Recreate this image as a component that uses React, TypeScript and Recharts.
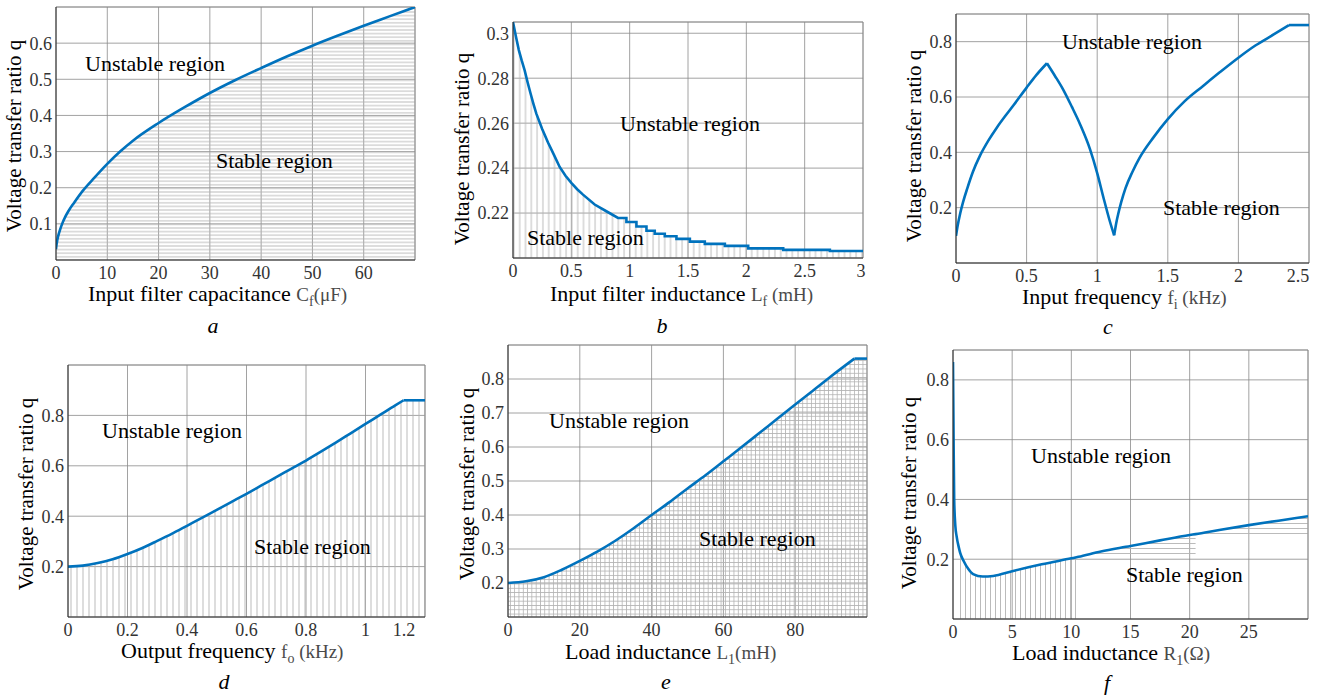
import React from 'react';
import { ComposedChart, Line, Area, XAxis, YAxis, CartesianGrid, ReferenceLine } from 'recharts';

const FONT = 'Liberation Serif, DejaVu Serif, Noto Serif, serif';
const BLUE = '#0072bd';
const GRID = '#8a8a8a';
const HATCH = '#b3b3b3';
const AXIS = '#262626';

// (a) input filter capacitance Cf (uF)
const capC = [0, 0.1, 0.25, 0.5, 0.75, 1.25, 1.75, 2.5, 3.5, 5.25, 7.5, 10, 12.5, 15, 20, 25, 30, 35, 40, 45, 50, 55, 60, 65, 70];
const capQ = [0.03, 0.042, 0.055, 0.07, 0.082, 0.102, 0.118, 0.137, 0.158, 0.192, 0.228, 0.266, 0.3, 0.33, 0.379, 0.422, 0.462, 0.498, 0.531, 0.563, 0.593, 0.621, 0.648, 0.674, 0.7];
const capXTicks = [0, 10, 20, 30, 40, 50, 60];
const capYTicks = [0.1, 0.2, 0.3, 0.4, 0.5, 0.6];

// (b) input filter inductance Lf (mH) - stair-stepped tail
const indL = [0, 0.025, 0.05, 0.075, 0.1, 0.125, 0.15, 0.175, 0.2, 0.25, 0.3, 0.35, 0.4, 0.45, 0.5, 0.55, 0.6, 0.7, 0.8, 0.9,
  0.972, 0.972, 1.058, 1.058, 1.144, 1.144, 1.215, 1.215, 1.301, 1.301, 1.401, 1.401, 1.516, 1.516,
  1.644, 1.644, 1.816, 1.816, 2.016, 2.016, 2.316, 2.316, 2.716, 2.716, 3.0];
const indQ = [0.305, 0.2985, 0.2925, 0.2878, 0.2835, 0.2782, 0.2733, 0.2686, 0.2642, 0.2574, 0.2514, 0.246, 0.2405, 0.2366, 0.2334, 0.2306, 0.2282, 0.2238, 0.2208, 0.2178,
  0.2178, 0.216, 0.216, 0.214, 0.214, 0.2121, 0.2121, 0.2108, 0.2108, 0.2097, 0.2097, 0.2085, 0.2085, 0.2073,
  0.2073, 0.2063, 0.2063, 0.2054, 0.2054, 0.2043, 0.2043, 0.2036, 0.2036, 0.2031, 0.2031];
const indXTicks = [0, 0.5, 1, 1.5, 2, 2.5, 3];
const indYTicks = [0.22, 0.24, 0.26, 0.28, 0.3];

// (c) input frequency fi (kHz): rise, fall, rise again (sharp cusps between)
const finF = [0, 0.01, 0.03, 0.05, 0.08, 0.12, 0.17, 0.23, 0.29, 0.35, 0.41, 0.5, 0.57, 0.644,
  0.7, 0.76, 0.82, 0.88, 0.95, 1.0, 1.045, 1.09, 1.12,
  1.135, 1.15, 1.17, 1.2, 1.25, 1.3, 1.4, 1.5, 1.62, 1.75, 1.87, 2.0, 2.12, 2.25, 2.358, 2.5];
const finQ = [0.098, 0.13, 0.18, 0.22, 0.27, 0.33, 0.388, 0.443, 0.49, 0.532, 0.572, 0.634, 0.68, 0.722,
  0.677, 0.626, 0.565, 0.5, 0.41, 0.325, 0.235, 0.15, 0.1,
  0.145, 0.18, 0.22, 0.27, 0.33, 0.38, 0.455, 0.52, 0.585, 0.64, 0.69, 0.742, 0.786, 0.826, 0.86, 0.86];
const finPeak = 0.644;
const finDip = 1.12;
const finSat = 2.358;
const finXTicks = [0, 0.5, 1, 1.5, 2, 2.5];
const finYTicks = [0.2, 0.4, 0.6, 0.8];

// (d) output frequency fo (kHz)
const foutF = [0, 0.05, 0.1, 0.15, 0.2, 0.25, 0.3, 0.35, 0.4, 0.45, 0.5, 0.55, 0.6, 0.65, 0.7, 0.75, 0.8, 0.85, 0.9, 0.95, 1.0, 1.05, 1.1, 1.128, 1.2];
const foutQ = [0.2, 0.204, 0.214, 0.229, 0.25, 0.274, 0.302, 0.331, 0.362, 0.393, 0.425, 0.457, 0.489, 0.522, 0.555, 0.588, 0.621, 0.656, 0.692, 0.729, 0.766, 0.803, 0.84, 0.86, 0.86];
const foutSat = 1.128;
const foutXTicks = [0, 0.2, 0.4, 0.6, 0.8, 1, 1.2];
const foutYTicks = [0.2, 0.4, 0.6, 0.8];

// (e) load inductance L1 (mH)
const loadL = [0, 5, 10, 15, 20, 25, 30, 35, 40, 45, 50, 55, 60, 65, 70, 75, 80, 85, 90, 96.5, 100];
const loadLQ = [0.2, 0.205, 0.217, 0.239, 0.265, 0.293, 0.325, 0.361, 0.4, 0.438, 0.478, 0.517, 0.558, 0.599, 0.641, 0.683, 0.725, 0.766, 0.808, 0.86, 0.86];
const loadLSat = 96.5;
const loadLXTicks = [0, 20, 40, 60, 80];
const loadLYTicks = [0.2, 0.3, 0.4, 0.5, 0.6, 0.7, 0.8];

// (f) load resistance R1 (ohm)
const loadR = [0, 0.05, 0.1, 0.2, 0.3, 0.5, 0.6, 0.9, 1.3, 1.7, 2.5, 3.4, 5, 7.5, 10, 10.6, 12.5, 15, 17.5, 20, 20.5, 22.5, 25, 27.5, 30];
const loadRQ = [0.86, 0.6, 0.4, 0.31, 0.278, 0.238, 0.222, 0.194, 0.167, 0.15, 0.142, 0.144, 0.16, 0.183, 0.203, 0.208, 0.226, 0.244, 0.263, 0.281, 0.284, 0.298, 0.314, 0.329, 0.344];
const loadRXTicks = [0, 5, 10, 15, 20, 25];
const loadRYTicks = [0.2, 0.4, 0.6, 0.8];
// hatch bands of panel f: [from, to, lower q]
const fVertBand = [0.5, 10.6];
const fBand1 = [10.6, 20.5, 0.205];
const fBand2 = [20.5, 30, 0.278];

const zip = (xs: number[], qs: number[]) => xs.map((x, i) => ({ x, q: qs[i] }));
const inRange = (x: number, a: number, b: number, v: any) => (x >= a && x <= b ? v : null);

const aData = zip(capC, capQ);
const bData = zip(indL, indQ);
const cData = finF.map((x, i) => ({
  x,
  up1: inRange(x, 0, finPeak, finQ[i]),
  down: inRange(x, finPeak, finDip, finQ[i]),
  up2: inRange(x, finDip, finSat, finQ[i]),
  flat: inRange(x, finSat, Infinity, finQ[i]),
}));
const dData = foutF.map((x, i) => ({
  x,
  q: foutQ[i],
  ramp: inRange(x, 0, foutSat, foutQ[i]),
  flat: inRange(x, foutSat, Infinity, foutQ[i]),
}));
const eData = loadL.map((x, i) => ({
  x,
  q: loadLQ[i],
  ramp: inRange(x, 0, loadLSat, loadLQ[i]),
  flat: inRange(x, loadLSat, Infinity, loadLQ[i]),
}));
const fData = loadR.map((x, i) => {
  const q = loadRQ[i];
  return {
    x,
    q,
    v: inRange(x, fVertBand[0], fVertBand[1], q),
    h1: inRange(x, fBand1[0], fBand1[1], [fBand1[2], q]),
    h2: inRange(x, fBand2[0], fBand2[1], [fBand2[2], q]),
  };
});

function XTick(props: any) {
  const { x, y, payload, lastValue, lastDx } = props;
  const shift = payload.value === lastValue ? lastDx : 0;
  return (
    <text x={x + shift} y={y} dy="0.71em" textAnchor="middle" fontFamily={FONT} fontSize={18} fill="#333">
      {payload.value}
    </text>
  );
}

function YTick(props: any) {
  const { x, y, payload } = props;
  return (
    <text x={x} y={y} dy="0.355em" textAnchor="end" fontFamily={FONT} fontSize={18} fill="#333">
      {payload.value}
    </text>
  );
}

const YW = 60;
const XH = 30;
const PAD = 4;

function Panel({ box, data, xDomain, yDomain, xTicks, yTicks, lastDx = 0, children }: any) {
  const [l, t, r, b] = box;
  return (
    <div style={{ position: 'absolute', left: l - YW, top: t - PAD }}>
      <ComposedChart
        width={YW + r - l + PAD}
        height={PAD + b - t + XH}
        data={data}
        margin={{ top: PAD, right: PAD, bottom: 0, left: 0 }}
      >
        <CartesianGrid stroke={GRID} strokeWidth={0.8} />
        <XAxis
          dataKey="x"
          type="number"
          domain={xDomain}
          ticks={xTicks}
          allowDataOverflow
          interval={0}
          height={XH}
          tickSize={0}
          tickMargin={6}
          tickLine={false}
          stroke={AXIS}
          tick={<XTick lastValue={xTicks[xTicks.length - 1]} lastDx={lastDx} />}
        />
        <YAxis
          type="number"
          domain={yDomain}
          ticks={yTicks}
          allowDataOverflow
          interval={0}
          width={YW}
          tickSize={0}
          tickMargin={4}
          tickLine={false}
          stroke={AXIS}
          tick={<YTick />}
        />
        <ReferenceLine x={xDomain[1]} stroke={GRID} strokeWidth={0.8} />
        <ReferenceLine y={yDomain[1]} stroke={GRID} strokeWidth={0.8} />
        {children}
      </ComposedChart>
    </div>
  );
}

function Note({ x, y, children, size = 22, center = false, rotate = false, italic = false }: any) {
  const tx = center || rotate ? '-50%' : '0';
  return (
    <div
      style={{
        position: 'absolute',
        left: x,
        top: y,
        transform: `translate(${tx}, -50%)${rotate ? ' rotate(-90deg)' : ''}`,
        fontFamily: FONT,
        fontSize: size,
        lineHeight: 1,
        whiteSpace: 'nowrap',
        fontStyle: italic ? 'italic' : 'normal',
        color: '#000',
      }}
    >
      {children}
    </div>
  );
}

function Unit({ sym, sub, rest }: any) {
  return (
    <span style={{ color: '#4a4a4a', fontSize: 19 }}>
      {sym}
      <span style={{ fontSize: 14, position: 'relative', top: '0.35em' }}>{sub}</span>
      {rest}
    </span>
  );
}

const line = (key: string, type: any = 'linear') => (
  <Line dataKey={key} type={type} stroke={BLUE} strokeWidth={2.6} dot={false} activeDot={false} isAnimationActive={false} />
);

const YLABEL = 'Voltage transfer ratio q';

export default function App() {
  return (
    <div style={{ position: 'absolute', left: 0, top: 0, width: 1322, height: 698, background: '#fff', overflow: 'hidden' }}>
      <svg width={0} height={0} style={{ position: 'absolute' }}>
        <defs>
          <pattern id="hatchA" patternUnits="userSpaceOnUse" width={10} height={3.6}>
            <line x1={0} y1={1.8} x2={10} y2={1.8} stroke={HATCH} strokeWidth={0.9} />
          </pattern>
          <pattern id="hatchB" patternUnits="userSpaceOnUse" width={5.8} height={10}>
            <line x1={2.9} y1={0} x2={2.9} y2={10} stroke={HATCH} strokeWidth={0.9} />
          </pattern>
          <pattern id="hatchD" patternUnits="userSpaceOnUse" width={6} height={10}>
            <line x1={3} y1={0} x2={3} y2={10} stroke={HATCH} strokeWidth={0.9} />
          </pattern>
          <pattern id="hatchE" patternUnits="userSpaceOnUse" width={4.3} height={4.3}>
            <line x1={2.15} y1={0} x2={2.15} y2={4.3} stroke={HATCH} strokeWidth={0.8} />
            <line x1={0} y1={2.15} x2={4.3} y2={2.15} stroke={HATCH} strokeWidth={0.8} />
          </pattern>
          <pattern id="hatchFV" patternUnits="userSpaceOnUse" width={5} height={10}>
            <line x1={2.5} y1={0} x2={2.5} y2={10} stroke={HATCH} strokeWidth={0.9} />
          </pattern>
          <pattern id="hatchFH" patternUnits="userSpaceOnUse" width={10} height={5}>
            <line x1={0} y1={2.5} x2={10} y2={2.5} stroke={HATCH} strokeWidth={0.9} />
          </pattern>
        </defs>
      </svg>

      {/* a */}
      <Panel box={[56, 7, 415, 260]} data={aData} xDomain={[0, 70]} yDomain={[0, 0.7]} xTicks={capXTicks} yTicks={capYTicks}>
        <Area dataKey="q" type="monotone" fill="url(#hatchA)" fillOpacity={1} stroke="none" isAnimationActive={false} />
        {line('q', 'monotone')}
      </Panel>

      {/* b */}
      <Panel box={[513, 22, 863, 258]} data={bData} xDomain={[0, 3]} yDomain={[0.2, 0.305]} xTicks={indXTicks} yTicks={indYTicks} lastDx={-2}>
        <Area dataKey="q" type="linear" fill="url(#hatchB)" fillOpacity={1} stroke="none" isAnimationActive={false} />
        {line('q')}
      </Panel>

      {/* c */}
      <Panel box={[956, 14, 1309, 263]} data={cData} xDomain={[0, 2.5]} yDomain={[0, 0.9]} xTicks={finXTicks} yTicks={finYTicks} lastDx={-11}>
        {line('up1', 'monotone')}
        {line('down', 'monotone')}
        {line('up2', 'monotone')}
        {line('flat')}
      </Panel>

      {/* d */}
      <Panel box={[68, 365, 425, 617]} data={dData} xDomain={[0, 1.2]} yDomain={[0, 1]} xTicks={foutXTicks} yTicks={foutYTicks} lastDx={-21}>
        <Area dataKey="q" type="linear" fill="url(#hatchD)" fillOpacity={1} stroke="none" isAnimationActive={false} />
        {line('ramp', 'monotone')}
        {line('flat')}
      </Panel>

      {/* e */}
      <Panel box={[508, 345, 867, 617]} data={eData} xDomain={[0, 100]} yDomain={[0.1, 0.9]} xTicks={loadLXTicks} yTicks={loadLYTicks}>
        <Area dataKey="q" type="linear" fill="url(#hatchE)" fillOpacity={1} stroke="none" isAnimationActive={false} />
        {line('ramp', 'monotone')}
        {line('flat')}
      </Panel>

      {/* f */}
      <Panel box={[953, 350, 1308, 619]} data={fData} xDomain={[0, 30]} yDomain={[0, 0.9]} xTicks={loadRXTicks} yTicks={loadRYTicks}>
        <Area dataKey="v" type="monotone" fill="url(#hatchFV)" fillOpacity={1} stroke="none" isAnimationActive={false} />
        <Area dataKey="h1" type="linear" fill="url(#hatchFH)" fillOpacity={1} stroke="none" isAnimationActive={false} />
        <Area dataKey="h2" type="linear" fill="url(#hatchFH)" fillOpacity={1} stroke="none" isAnimationActive={false} />
        {line('q', 'monotone')}
      </Panel>

      {/* y axis titles */}
      <Note x={14} y={136} size={21} rotate>{YLABEL}</Note>
      <Note x={462} y={149} size={21} rotate>{YLABEL}</Note>
      <Note x={914} y={146} size={21} rotate>{YLABEL}</Note>
      <Note x={26} y={494} size={21} rotate>{YLABEL}</Note>
      <Note x={467} y={484} size={21} rotate>{YLABEL}</Note>
      <Note x={909} y={493} size={21} rotate>{YLABEL}</Note>

      {/* x axis titles */}
      <Note x={88} y={294}>Input filter capacitance <Unit sym="C" sub="f" rest="(μF)" /></Note>
      <Note x={550} y={294}>Input filter inductance <Unit sym="L" sub="f" rest=" (mH)" /></Note>
      <Note x={1022} y={297}>Input frequency <Unit sym="f" sub="i" rest=" (kHz)" /></Note>
      <Note x={121} y={651}>Output frequency <Unit sym="f" sub="o" rest=" (kHz)" /></Note>
      <Note x={565} y={652}>Load inductance <Unit sym="L" sub="1" rest="(mH)" /></Note>
      <Note x={1012} y={653}>Load inductance <Unit sym="R" sub="1" rest="(Ω)" /></Note>

      {/* region labels */}
      <Note x={85} y={64}>Unstable region</Note>
      <Note x={216} y={161}>Stable region</Note>
      <Note x={620} y={124}>Unstable region</Note>
      <Note x={527} y={238}>Stable region</Note>
      <Note x={1062} y={42}>Unstable region</Note>
      <Note x={1163} y={208}>Stable region</Note>
      <Note x={102} y={431}>Unstable region</Note>
      <Note x={254} y={547}>Stable region</Note>
      <Note x={549} y={421}>Unstable region</Note>
      <Note x={699} y={539}>Stable region</Note>
      <Note x={1031} y={456}>Unstable region</Note>
      <Note x={1126} y={575}>Stable region</Note>

      {/* captions */}
      <Note x={213} y={326} center italic>a</Note>
      <Note x={662} y={326} center italic>b</Note>
      <Note x={1108} y={327} center italic>c</Note>
      <Note x={224} y={682} center italic>d</Note>
      <Note x={666} y={682} center italic>e</Note>
      <Note x={1107} y={683} center italic>f</Note>
    </div>
  );
}
